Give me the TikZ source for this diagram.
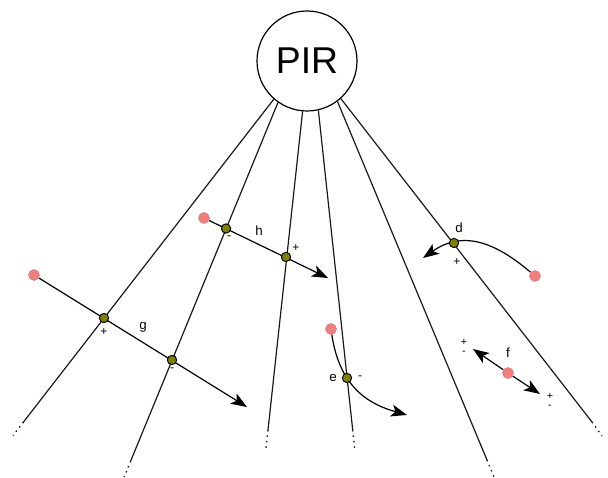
\documentclass[tikz,border=0pt]{standalone}
\usepackage{fontspec}
\setmainfont{Liberation Sans}
\usetikzlibrary{arrows.meta}
\definecolor{reddot}{RGB}{240,128,128}
\definecolor{olivedot}{RGB}{128,128,0}
\pgfdeclarelayer{bg}
\pgfsetlayers{bg,main}
\begin{document}
\begin{tikzpicture}[x=0.75pt,y=-0.75pt,
  wire/.style={draw=black!90, line width=0.9pt},
  tail/.style={draw=black!90, line width=1pt, dash pattern=on 1.1pt off 3pt},
  vec/.style={draw=black, line width=0.9pt, -{Stealth[length=12pt,width=9pt,inset=3pt]}},
  src/.style={circle, fill=reddot, draw=reddot!90!black, line width=0.3pt, minimum size=8.3pt, inner sep=0pt},
  junc/.style={circle, fill=olivedot, draw=black, line width=0.7pt, minimum size=7pt, inner sep=0pt},
  lbl/.style={font=\fontsize{10}{11}\selectfont, inner sep=0pt},
  sgn/.style={font=\fontsize{9}{9}\selectfont, inner sep=0pt},
  pm/.style={font=\fontsize{8}{6.5}\selectfont, inner sep=0pt, align=center}
]
\useasboundingbox (0,0) rectangle (608,478);

\node[circle, draw, line width=0.9pt, minimum size=75pt, inner sep=0pt,
      font=\fontsize{28}{30}\selectfont] (pir) at (307,61) {PIR};

% line ends
\coordinate (s1) at (23.5,422);  \coordinate (t1) at (13,435.5);
\coordinate (s2) at (130.7,461); \coordinate (t2) at (124.2,477);
\coordinate (s3) at (268,430);   \coordinate (t3) at (266,448);
\coordinate (s4) at (352.7,430); \coordinate (t4) at (354.6,448);
\coordinate (s5) at (487,460);   \coordinate (t5) at (494,477);
\coordinate (s6) at (592,422);   \coordinate (t6) at (602,436);

% junction dots
\node[junc] (gp) at (104,318) {};
\node[junc] (gm) at (172,360) {};
\node[junc] (hm) at (226,228.5) {};
\node[junc] (hp) at (286,257) {};
\node[junc] (jd) at (454,243) {};
\node[junc] (je) at (347,378) {};

% source dots
\node[src] (rg) at (34,275) {};
\node[src] (rh) at (204,218) {};
\node[src] (rd) at (535,276) {};
\node[src] (re) at (331,329) {};
\node[src] (rf) at (508,373) {};

% arrow tips
\coordinate (tg) at (247,407);
\coordinate (th) at (328,278);
\coordinate (td) at (423,258);
\coordinate (te) at (407,415);
\coordinate (tf1) at (473,349);
\coordinate (tf2) at (540,394);

\begin{pgfonlayer}{bg}
\draw[wire] (pir.-131) -- (s1); \draw[tail] (s1) -- (t1);
\draw[wire] (pir.-125.5) -- (s2); \draw[tail] (s2) -- (t2);
\draw[wire] (pir.-95.6) -- (s3); \draw[tail] (s3) -- (t3);
\draw[wire] (pir.-77.8) -- (s4); \draw[tail] (s4) -- (t4);
\draw[wire] (pir.-53.6) -- (s5); \draw[tail] (s5) -- (t5);
\draw[wire] (pir.-48) -- (s6); \draw[tail] (s6) -- (t6);

\draw[vec] (rg) -- (tg);
\draw[vec] (rh) -- (th);
\draw[vec] (rd) .. controls (495,242) and (463,230) .. (td);
\draw[vec] (re) .. controls (340,390) and (372,405) .. (te);
\draw[vec] (rf) -- (tf1);
\draw[vec] (rf) -- (tf2);
\end{pgfonlayer}

% labels
\node[lbl] (lg) at (143,327) {g};
\node[lbl] (lh) at (259,231) {h};
\node[lbl] (ld) at (459,228) {d};
\node[lbl] (le) at (333,378) {e};
\node[lbl] (lf) at (508,353) {f};

\node[sgn] (sgp) at (104,332) {+};
\node[sgn] (sgm) at (172,370) {-};
\node[sgn] (shm) at (229,238) {-};
\node[sgn] (shp) at (296,248) {+};
\node[sgn] (sd) at (457,262) {+};
\node[sgn] (se) at (360,378) {-};
\node[pm] (sf1) at (464,347) {+\\-};
\node[pm] (sf2) at (550,401) {+\\-};
\end{tikzpicture}
\end{document}
